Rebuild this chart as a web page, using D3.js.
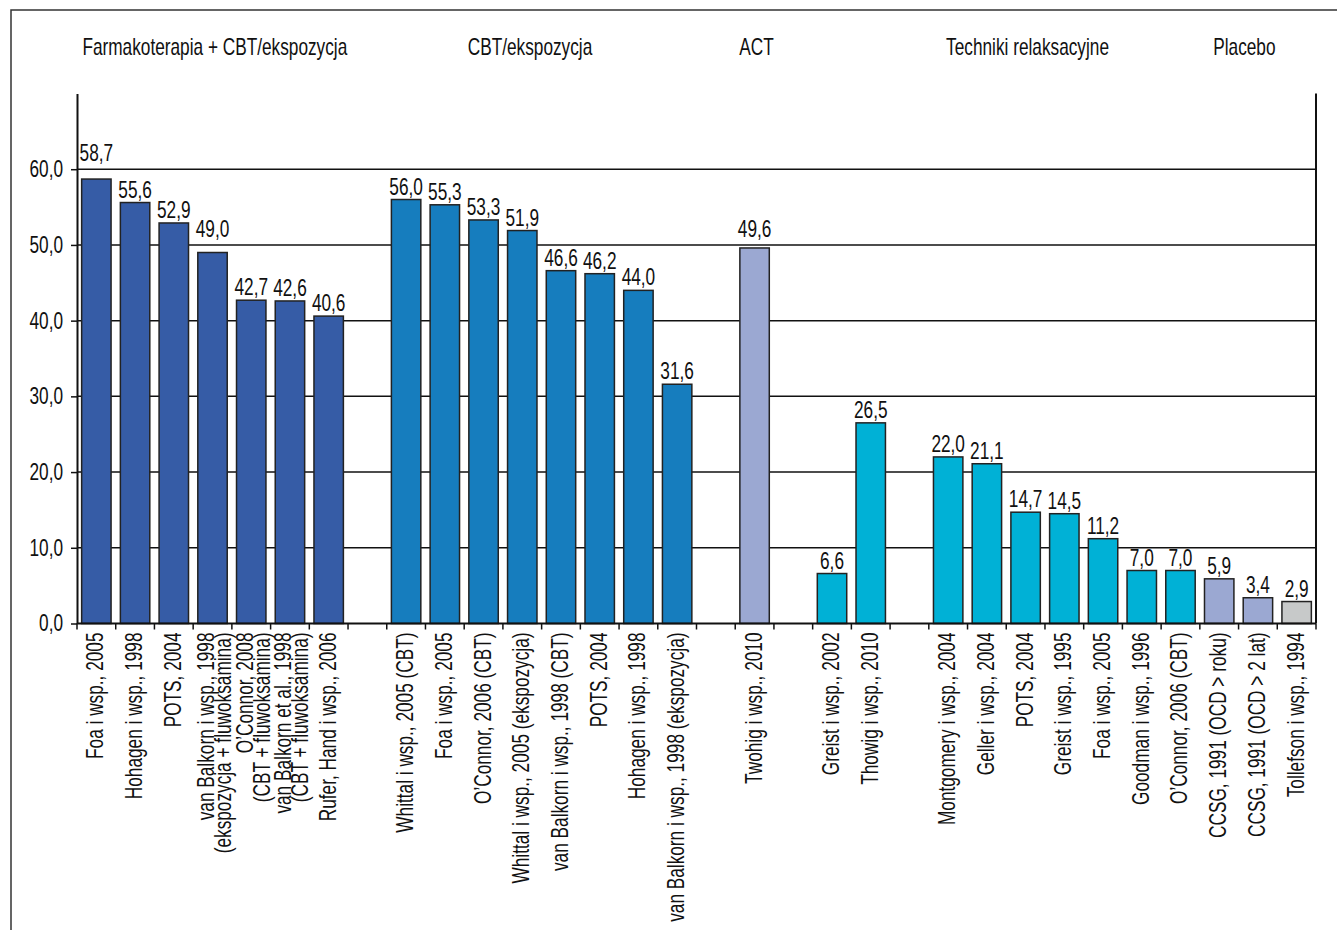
<!DOCTYPE html>
<html>
<head>
<meta charset="utf-8">
<script src="https://cdn.jsdelivr.net/npm/d3@7"></script>
<style>
  body { margin: 0; background: #fff; }
  svg text { font-family: "Liberation Sans", Arial, sans-serif; fill: #111; }
</style>
</head>
<body>
<div id="chart"></div>
<script>
// Data; null = empty slot between groups
var categories = [
    'Foa i wsp., 2005', 'Hohagen i wsp., 1998', 'POTS, 2004',
    'van Balkorn i wsp., 1998\n(ekspozycja + fluwoksamina)',
    'O\u2019Connor, 2008\n(CBT + fluwoksamina)',
    'van Balkorn et al., 1998\n(CBT + fluwoksamina)',
    'Rufer, Hand i wsp., 2006',
    null,
    'Whittal i wsp., 2005 (CBT)', 'Foa i wsp., 2005', 'O\u2019Connor, 2006 (CBT)',
    'Whittal i wsp., 2005 (ekspozycja)', 'van Balkorn i wsp., 1998 (CBT)', 'POTS, 2004',
    'Hohagen i wsp., 1998', 'van Balkorn i wsp., 1998 (ekspozycja)',
    null,
    'Twohig i wsp., 2010',
    null,
    'Greist i wsp., 2002', 'Thowig i wsp., 2010',
    null,
    'Montgomery i wsp., 2004', 'Geller i wsp., 2004', 'POTS, 2004', 'Greist i wsp., 1995',
    'Foa i wsp., 2005', 'Goodman i wsp., 1996', 'O\u2019Connor, 2006 (CBT)',
    'CCSG, 1991 (OCD > roku)', 'CCSG, 1991 (OCD > 2 lat)', 'Tollefson i wsp., 1994'
];

var values = [
    58.7, 55.6, 52.9, 49.0, 42.7, 42.6, 40.6,
    null,
    56.0, 55.3, 53.3, 51.9, 46.6, 46.2, 44.0, 31.6,
    null,
    49.6,
    null,
    6.6, 26.5,
    null,
    22.0, 21.1, 14.7, 14.5, 11.2, 7.0, 7.0, 5.9, 3.4, 2.9
];

// treatment kind of each bar (drives the fill colour)
var kinds = [
    'farm', 'farm', 'farm', 'farm', 'farm', 'farm', 'farm',
    null,
    'cbt', 'cbt', 'cbt', 'cbt', 'cbt', 'cbt', 'cbt', 'cbt',
    null,
    'act',
    null,
    'relax', 'relax',
    null,
    'relax', 'relax', 'relax', 'relax', 'relax', 'relax', 'relax', 'act', 'act', 'placebo'
];

var groupNames = ['Farmakoterapia + CBT/ekspozycja', 'CBT/ekspozycja', 'ACT', 'Techniki relaksacyjne', 'Placebo'];
var yTicks = [0, 10, 20, 30, 40, 50, 60];

// layout
var width = 1337;
var height = 930;
var plotLeft = 77, plotRight = 1316, plotTop = 93.5, plotBottom = 623.5;
var fontSize = 23;
var squash = 0.75;   // the original face is a condensed grotesque
// header centres, in slot units from the left axis
var headerAt = [3.56, 11.7, 17.55, 24.55, 30.15];

var fmt = d3.formatLocale({ decimal: ',', thousands: ' ', grouping: [3], currency: ['', ''] }).format('.1f');

var color = d3.scaleOrdinal()
    .domain(['farm', 'cbt', 'act', 'relax', 'placebo'])
    .range(['#365ca6', '#167dbe', '#9ba8d2', '#00b1d6', '#c7c9c9']);

var x = d3.scaleBand()
    .domain(d3.range(categories.length))
    .range([plotLeft, plotRight])
    .paddingInner(0.24)
    .paddingOuter(0.12);

var y = d3.scaleLinear()
    .domain([0, 70])
    .range([plotBottom, plotTop]);

var step = x.step();

var svg = d3.select('#chart').append('svg')
    .attr('width', width)
    .attr('height', height);

// outer frame
svg.append('rect')
    .attr('x', 11).attr('y', 10)
    .attr('width', width + 20).attr('height', height + 20)
    .attr('fill', 'none')
    .attr('stroke', '#333')
    .attr('stroke-width', 1.5);

// gridlines
svg.selectAll('line.grid')
    .data(yTicks.filter(function (d) { return d > 0; }))
    .enter()
    .append('line')
    .attr('class', 'grid')
    .attr('x1', plotLeft).attr('x2', plotRight)
    .attr('y1', function (d) { return y(d); })
    .attr('y2', function (d) { return y(d); })
    .attr('stroke', '#111')
    .attr('stroke-width', 1.5);

// right frame of plot area
svg.append('line')
    .attr('x1', plotRight).attr('x2', plotRight)
    .attr('y1', plotTop).attr('y2', plotBottom)
    .attr('stroke', '#111')
    .attr('stroke-width', 2);

// y axis
var yAxis = svg.append('g')
    .attr('transform', 'translate(' + plotLeft + ',0)')
    .call(d3.axisLeft(y).tickValues(yTicks).tickSize(6).tickSizeOuter(0).tickPadding(9).tickFormat(fmt));

yAxis.attr('font-family', null).attr('font-size', null);
yAxis.select('.domain').attr('stroke', '#111').attr('stroke-width', 2);
yAxis.selectAll('.tick line').attr('stroke', '#111').attr('stroke-width', 1.5);
yAxis.selectAll('.tick text')
    .attr('font-size', fontSize)
    .attr('fill', '#111')
    .attr('dy', '0.32em')
    .attr('x', -14 / squash)
    .attr('transform', 'scale(' + squash + ',1)');

// bars
var items = values.map(function (v, i) { return { i: i, v: v, kind: kinds[i], label: categories[i] }; });
var bars = items.filter(function (d) { return d.v !== null; });

svg.selectAll('rect.bar')
    .data(bars)
    .enter()
    .append('rect')
    .attr('class', 'bar')
    .attr('x', function (d) { return x(d.i); })
    .attr('width', x.bandwidth())
    .attr('y', function (d) { return y(d.v); })
    .attr('height', function (d) { return y(0) - y(d.v); })
    .attr('fill', function (d) { return color(d.kind); })
    .attr('stroke', '#222')
    .attr('stroke-width', 1.5);

// x axis line with ticks at slot boundaries
svg.append('line')
    .attr('x1', plotLeft).attr('x2', plotRight)
    .attr('y1', plotBottom).attr('y2', plotBottom)
    .attr('stroke', '#111')
    .attr('stroke-width', 2);

svg.selectAll('line.xtick')
    .data(d3.range(categories.length + 1))
    .enter()
    .append('line')
    .attr('class', 'xtick')
    .attr('x1', function (d) { return plotLeft + d * step; })
    .attr('x2', function (d) { return plotLeft + d * step; })
    .attr('y1', plotBottom).attr('y2', plotBottom + 6)
    .attr('stroke', '#111')
    .attr('stroke-width', 1.5);

// value labels, nudged above a gridline when they would cross it
function labelBase(v) {
    var base = y(v) - 5;
    yTicks.forEach(function (t) {
        var gy = y(t);
        if (t > 0 && gy > base - 17 && gy < base + 3) base = gy - 8;
    });
    return base;
}

svg.selectAll('text.value')
    .data(bars)
    .enter()
    .append('text')
    .attr('class', 'value')
    .attr('text-anchor', 'middle')
    .attr('font-size', fontSize)
    .attr('transform', function (d) {
        return 'translate(' + (x(d.i) + x.bandwidth() / 2) + ',' + labelBase(d.v) + ') scale(' + squash + ',1)';
    })
    .text(function (d) { return fmt(d.v); });

// rotated category labels
var catText = svg.selectAll('text.cat')
    .data(bars)
    .enter()
    .append('text')
    .attr('class', 'cat')
    .attr('text-anchor', 'end')
    .attr('font-size', fontSize)
    .attr('transform', function (d) {
        return 'translate(' + (x(d.i) + x.bandwidth() / 2) + ',' + (plotBottom + 9) + ') rotate(-90) scale(' + squash + ',1)';
    });

catText.each(function (d) {
    var lines = d.label.split('\n');
    var t = d3.select(this);
    lines.forEach(function (line, k) {
        var dy = lines.length === 1 ? 7 : (k === 0 ? 1.5 : 18.5);
        t.append('tspan').attr('x', 0).attr('y', dy).text(line);
    });
});

// group headers
svg.selectAll('text.header')
    .data(groupNames)
    .enter()
    .append('text')
    .attr('class', 'header')
    .attr('text-anchor', 'middle')
    .attr('font-size', fontSize)
    .attr('transform', function (d, i) {
        return 'translate(' + (plotLeft + headerAt[i] * step) + ',55) scale(' + squash + ',1)';
    })
    .text(function (d) { return d; });
</script>
</body>
</html>
